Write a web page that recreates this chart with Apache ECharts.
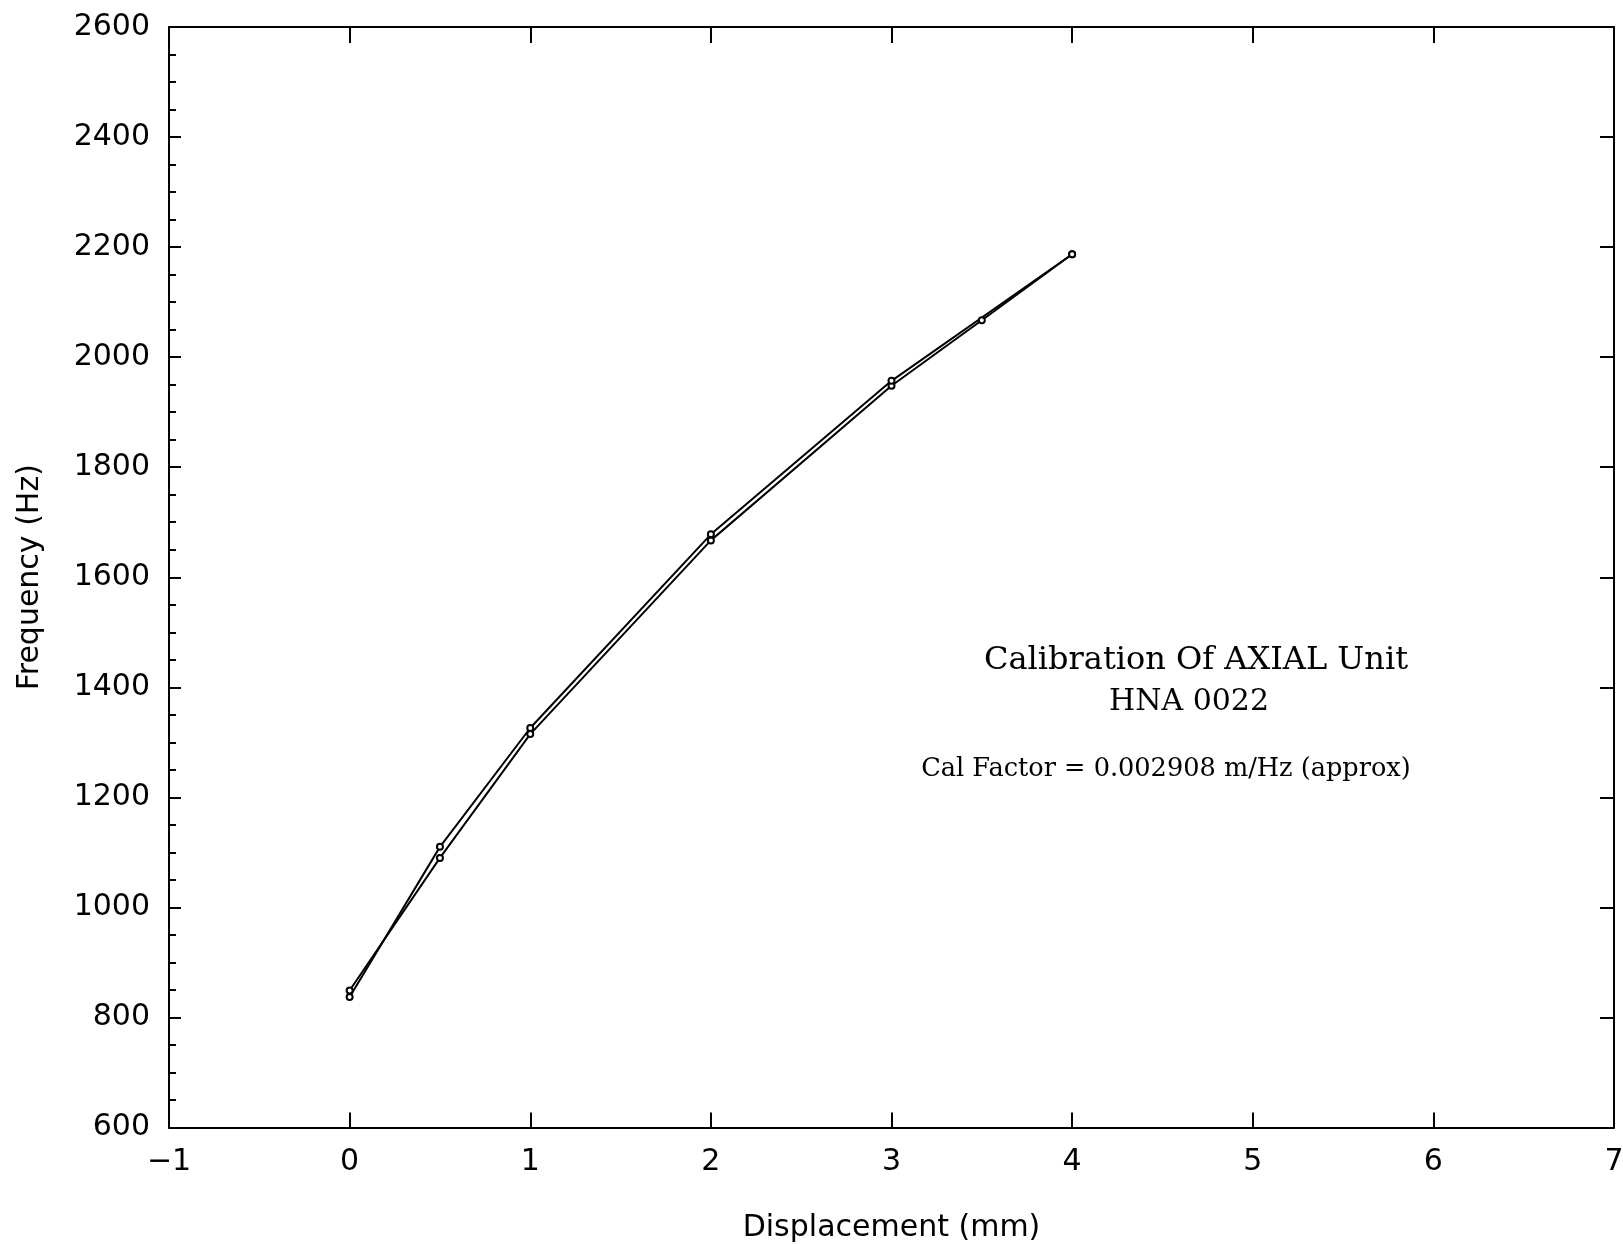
<!DOCTYPE html>
<html>
<head>
<meta charset="utf-8">
<title>Calibration Of AXIAL Unit</title>
<script src="https://cdn.jsdelivr.net/npm/echarts@6/dist/echarts.min.js"></script>
<style>
  html, body { margin: 0; padding: 0; background: #fff; }
  #chart { width: 1623px; height: 1244px; }
</style>
</head>
<body>
<div id="chart"></div>
<script>
// Calibration run 1: displacement (mm) vs frequency (Hz)
const dispA = [0, 0.5, 1, 2, 3, 3.5, 4];
const freqA = [849, 1090, 1315, 1667, 1948, 2067, 2187];
// Calibration run 2
const dispB = [0, 0.5, 1, 2, 3, 4];
const freqB = [837, 1110, 1326, 1678, 1957, 2187];

// Axis ranges and tick spacing
const xRange = [-1, 7];
const xStep = 1;
const yRange = [600, 2600];
const yStep = 200;

// Annotation text
const titleLines = ['Calibration Of AXIAL Unit', 'HNA 0022'];
const calNote = 'Cal Factor = 0.002908 m/Hz (approx)';

const pairs = (xs, ys) => xs.map((x, i) => [x, ys[i]]);
const fmtX = v => (v < 0 ? '\u2212' + Math.abs(v) : String(v));
const fmtY = v => String(v);

const labelFont = { fontFamily: 'DejaVu Sans', fontSize: 30, color: '#000' };
const axisLine = { show: true, onZero: false, lineStyle: { color: '#000', width: 2 } };
const noteStyle = (text, size) => ({
  text, fontFamily: 'DejaVu Serif', fontSize: size, fill: '#000',
  textAlign: 'center', textVerticalAlign: 'middle'
});

const chart = echarts.init(document.getElementById('chart'), null, { renderer: 'canvas' });

const lineSeries = (name, data) => ({
  name,
  type: 'line',
  data,
  xAxisIndex: 0,
  yAxisIndex: 0,
  symbol: 'emptyCircle',
  symbolSize: 6,
  lineStyle: { color: '#000', width: 2 },
  itemStyle: { color: '#000', borderWidth: 1.5 },
  emphasis: { disabled: true },
  z: 3
});

chart.setOption({
  animation: false,
  backgroundColor: '#fff',
  grid: {
    left: 169, right: 9, top: 27, bottom: 116.5,
    containLabel: false, outerBoundsMode: 'none'
  },
  xAxis: [
    {
      type: 'value', position: 'bottom',
      min: xRange[0], max: xRange[1], interval: xStep,
      name: 'Displacement (mm)', nameLocation: 'middle', nameGap: 86,
      nameTextStyle: labelFont,
      axisLine,
      axisTick: { show: true, inside: true, length: 15, lineStyle: { color: '#000', width: 2 } },
      axisLabel: { ...labelFont, margin: 20, formatter: fmtX },
      splitLine: { show: false }
    },
    {
      type: 'value', position: 'top',
      min: xRange[0], max: xRange[1], interval: xStep,
      axisLine,
      axisTick: { show: true, inside: true, length: 16, lineStyle: { color: '#000', width: 2 } },
      axisLabel: { show: false },
      splitLine: { show: false }
    }
  ],
  yAxis: [
    {
      type: 'value', position: 'left',
      min: yRange[0], max: yRange[1], interval: yStep,
      name: 'Frequency (Hz)', nameLocation: 'middle', nameGap: 124,
      nameTextStyle: labelFont,
      axisLine,
      axisTick: { show: true, inside: true, length: 12, lineStyle: { color: '#000', width: 2 } },
      minorTick: { show: true, splitNumber: 4, length: 7, lineStyle: { color: '#000', width: 2 } },
      axisLabel: { ...labelFont, margin: 19, formatter: fmtY },
      splitLine: { show: false },
      minorSplitLine: { show: false }
    },
    {
      type: 'value', position: 'right',
      min: yRange[0], max: yRange[1], interval: yStep,
      axisLine,
      axisTick: { show: true, inside: true, length: 14, lineStyle: { color: '#000', width: 2 } },
      axisLabel: { show: false },
      splitLine: { show: false }
    }
  ],
  graphic: [
    { type: 'text', position: [1196, 661], style: noteStyle(titleLines[0], 32) },
    { type: 'text', position: [1189, 702], style: noteStyle(titleLines[1], 30) },
    { type: 'text', position: [1166, 769], style: noteStyle(calNote, 25.6) }
  ],
  series: [
    lineSeries('Run 1', pairs(dispA, freqA)),
    lineSeries('Run 2', pairs(dispB, freqB))
  ]
});
</script>
</body>
</html>
